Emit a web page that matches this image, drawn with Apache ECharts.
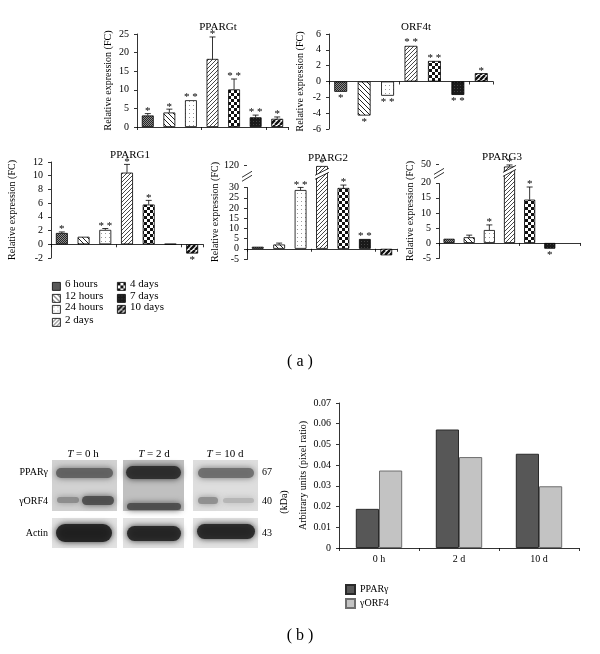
<!DOCTYPE html>
<html>
<head>
<meta charset="utf-8">
<script src="https://cdn.jsdelivr.net/npm/echarts@6.0.0/dist/echarts.min.js"></script>
<style>
html, body { margin: 0; padding: 0; background: #fff; }
#main { width: 600px; height: 654px; }
</style>
</head>
<body>
<div id="main"></div>
<script>
// data - panel (a)
var categories = ['6 hours', '12 hours', '24 hours', '2 days', '4 days', '7 days', '10 days'];

var ppargtVals = [3.1, 3.9, 7.2, 18.3, 10.1, 2.6, 2.2];
var ppargtErr = [3.6, 4.8, 7.3, 24.2, 12.9, 3.2, 2.7];
var ppargtStars = ['*', '*', '**', '*', '**', '**', '*'];

var orf4tVals = [-1.3, -4.3, -1.8, 4.5, 2.6, -1.7, 1.05];
var orf4tErr = [-1.3, -4.3, -1.8, 4.6, 2.7, -1.7, 1.05];
var orf4tStars = ['*', '*', '**', '**', '**', '**', '*'];

var pparg1Vals = [1.65, 1.1, 2.1, 10.45, 5.8, 0.05, -1.35];
var pparg1Err = [1.8, 1.15, 2.3, 11.65, 6.4, 0.05, -1.35];
var pparg1Stars = ['*', '', '**', '*', '*', '', '*'];

var pparg2Vals = [1.0, 2.1, 28.8, 116, 29.8, 4.8, -3.2];
var pparg2Err = [1.0, 2.8, 30.5, 119, 40, 4.8, -3.2];
var pparg2Stars = ['', '', '**', '*', '*', '**', ''];

var pparg3Vals = [1.4, 1.9, 4.3, 46, 14.4, -1.9, null];
var pparg3Err = [1.4, 2.6, 6.0, 48.5, 18.6, -1.9, null];
var pparg3Stars = ['', '', '*', '*', '*', '*', ''];

// broken axes: [start, end]
var pparg2Break = [30, 120];
var pparg3Break = [20, 50];

// data - panel (b)
var timePoints = ['0 h', '2 d', '10 d'];
var ppargProtein = [0.0189, 0.0572, 0.0455];
var orf4Protein = [0.0374, 0.0439, 0.0298];

var serif = '"Liberation Serif", "DejaVu Serif", serif';

// fill patterns for the 7 time points
function makePattern(size, draw) {
    var c = document.createElement('canvas');
    c.width = size;
    c.height = size;
    var ctx = c.getContext('2d');
    draw(ctx, size);
    return { image: c, repeat: 'repeat' };
}
function stripes(ctx, s, dir, width, bg, fg) {
    ctx.fillStyle = bg;
    ctx.fillRect(0, 0, s, s);
    ctx.strokeStyle = fg;
    ctx.lineWidth = width;
    ctx.beginPath();
    for (var k = -1; k <= 1; k++) {
        if (dir > 0) { ctx.moveTo(k * s, s); ctx.lineTo(k * s + s, 0); }
        else { ctx.moveTo(k * s, 0); ctx.lineTo(k * s + s, s); }
    }
    ctx.stroke();
}
var patterns = [
    makePattern(2, function (ctx) {
        ctx.fillStyle = '#8c8c8c'; ctx.fillRect(0, 0, 2, 2);
        ctx.fillStyle = '#262626'; ctx.fillRect(0, 0, 1, 1); ctx.fillRect(1, 1, 1, 1);
    }),
    makePattern(5, function (ctx, s) { stripes(ctx, s, -1, 1, '#fff', '#222'); }),
    makePattern(4, function (ctx) {
        ctx.fillStyle = '#fff'; ctx.fillRect(0, 0, 4, 4);
        ctx.fillStyle = '#9a9a9a'; ctx.fillRect(1, 1, 1, 1);
    }),
    makePattern(4, function (ctx, s) { stripes(ctx, s, 1, 0.9, '#fff', '#333'); }),
    makePattern(6, function (ctx) {
        ctx.fillStyle = '#fff'; ctx.fillRect(0, 0, 6, 6);
        ctx.fillStyle = '#111'; ctx.fillRect(0, 0, 3, 3); ctx.fillRect(3, 3, 3, 3);
    }),
    makePattern(3, function (ctx) {
        ctx.fillStyle = '#1a1a1a'; ctx.fillRect(0, 0, 3, 3);
        ctx.fillStyle = '#444'; ctx.fillRect(1, 1, 1, 1);
    }),
    makePattern(5, function (ctx, s) { stripes(ctx, s, 1, 2.4, '#fff', '#111'); })
];

// error bar + significance stars
function errorRender(stars) {
    return function (params, api) {
        var i = api.value(0), v = api.value(1), e = api.value(2);
        if (isNaN(v)) return;
        var base = api.coord([i, v]);
        var tip = api.coord([i, e]);
        var up = v >= 0;
        var kids = [];
        if (Math.abs(tip[1] - base[1]) > 1) {
            kids.push({ type: 'line', shape: { x1: base[0], y1: base[1], x2: tip[0], y2: tip[1] }, style: { stroke: '#000', lineWidth: 0.8 } });
            kids.push({ type: 'line', shape: { x1: tip[0] - 3, y1: tip[1], x2: tip[0] + 3, y2: tip[1] }, style: { stroke: '#000', lineWidth: 0.8 } });
        }
        var s = stars[params.dataIndex];
        if (s) {
            kids.push({
                type: 'text', x: tip[0], y: up ? tip[1] + 3 : tip[1] + 1,
                style: { text: s.split('').join(' '), fill: '#000', font: '11px ' + serif, align: 'center', verticalAlign: up ? 'bottom' : 'top' }
            });
        }
        return { type: 'group', children: kids };
    };
}

var grids = [], xAxes = [], yAxes = [], series = [], titles = [];
var axisText = { color: '#000', fontSize: 10, fontFamily: serif };

function addPanel(p) {
    var idx = grids.length;
    grids.push({ left: p.left, top: p.top, width: p.width, height: p.height, outerBoundsMode: 'none' });
    titles.push({ text: p.title, left: p.titleX, top: p.top - 17, textAlign: 'center',
        textStyle: { fontSize: 11, fontWeight: 'normal', color: '#000', fontFamily: serif } });
    xAxes.push({
        gridIndex: idx, type: 'category', data: categories,
        axisLine: { show: true, onZero: true, lineStyle: { color: '#000', width: 0.8 } },
        axisTick: { show: true, length: 3, lineStyle: { color: '#000', width: 0.8 } },
        axisLabel: { show: false }, splitLine: { show: false }
    });
    var y = {
        gridIndex: idx, type: 'value', min: p.min, max: p.max, interval: p.interval,
        name: 'Relative expression (FC)', nameLocation: 'middle', nameGap: p.nameGap,
        nameTextStyle: { color: '#000', fontSize: 10, fontFamily: serif },
        axisLine: { show: true, lineStyle: { color: '#000', width: 0.8 } },
        axisTick: { show: true, length: 3, lineStyle: { color: '#000', width: 0.8 } },
        axisLabel: axisText, splitLine: { show: false }
    };
    if (p.brk) {
        y.breaks = [{ start: p.brk[0], end: p.brk[1], gap: p.gap }];
        y.breakArea = { show: false, expandOnClick: false };
    }
    yAxes.push(y);
    series.push({
        type: 'bar', xAxisIndex: idx, yAxisIndex: idx, barWidth: '55%', silent: true,
        data: p.vals.map(function (v, i) {
            return { value: v, itemStyle: { color: patterns[i], borderColor: '#000', borderWidth: 0.8 } };
        })
    });
    series.push({
        type: 'custom', xAxisIndex: idx, yAxisIndex: idx, z: 5, silent: true,
        renderItem: errorRender(p.stars),
        encode: { x: 0, y: [1, 2] },
        data: p.vals.map(function (v, i) { return [i, v == null ? NaN : v, p.err[i] == null ? NaN : p.err[i]]; })
    });
}

addPanel({ title: 'PPARGt', titleX: 213, left: 137, top: 34, width: 151, height: 93, min: 0, max: 25, interval: 5,
    nameGap: 24, vals: ppargtVals, err: ppargtErr, stars: ppargtStars });
addPanel({ title: 'ORF4t', titleX: 411, left: 329, top: 34, width: 164, height: 95, min: -6, max: 6, interval: 2,
    nameGap: 24, vals: orf4tVals, err: orf4tErr, stars: orf4tStars });
addPanel({ title: 'PPARG1', titleX: 125, left: 51, top: 162, width: 152, height: 96, min: -2, max: 12, interval: 2,
    nameGap: 34, vals: pparg1Vals, err: pparg1Err, stars: pparg1Stars });
addPanel({ title: 'PPARG2', titleX: 323, left: 247, top: 165, width: 150, height: 94, min: -5, max: 120, interval: 5,
    nameGap: 24, vals: pparg2Vals, err: pparg2Err, stars: pparg2Stars, brk: pparg2Break, gap: '24%' });
addPanel({ title: 'PPARG3', titleX: 497, left: 439, top: 164, width: 141, height: 94, min: -5, max: 50, interval: 5,
    nameGap: 24, vals: pparg3Vals, err: pparg3Err, stars: pparg3Stars, brk: pparg3Break, gap: '20%' });

// panel (b) bar chart
var gb = grids.length;
grids.push({ left: 339, top: 403, width: 240, height: 145, outerBoundsMode: 'none' });
xAxes.push({
    gridIndex: gb, type: 'category', data: timePoints,
    axisLine: { show: true, lineStyle: { color: '#000', width: 0.8 } },
    axisTick: { show: true, length: 3, lineStyle: { color: '#000', width: 0.8 } },
    axisLabel: { color: '#000', fontSize: 10, fontFamily: serif, margin: 6 },
    splitLine: { show: false }
});
yAxes.push({
    gridIndex: gb, type: 'value', min: 0, max: 0.07, interval: 0.01,
    name: 'Arbitrary units (pixel ratio)', nameLocation: 'middle', nameGap: 31,
    nameTextStyle: { color: '#000', fontSize: 10, fontFamily: serif },
    axisLine: { show: true, lineStyle: { color: '#000', width: 0.8 } },
    axisTick: { show: true, length: 3, lineStyle: { color: '#000', width: 0.8 } },
    axisLabel: { color: '#000', fontSize: 10, fontFamily: serif,
        formatter: function (v) { return v === 0 ? '0' : v.toFixed(2); } },
    splitLine: { show: false }
});
series.push({
    name: 'PPAR\u03b3', type: 'bar', xAxisIndex: gb, yAxisIndex: gb,
    barGap: '0%', barCategoryGap: '42%', data: ppargProtein,
    itemStyle: { color: '#575757', borderColor: '#2a2a2a', borderWidth: 1 }
});
series.push({
    name: '\u03b3ORF4', type: 'bar', xAxisIndex: gb, yAxisIndex: gb,
    barGap: '0%', barCategoryGap: '42%', data: orf4Protein,
    itemStyle: { color: '#c3c3c3', borderColor: '#6e6e6e', borderWidth: 1 }
});

// legend for panel (a), built from the categories
var graphics = [];
var legendPos = [[52, 286], [52, 298], [52, 309], [52, 322], [117, 286], [117, 298], [117, 309]];
categories.forEach(function (c, i) {
    var p = legendPos[i];
    graphics.push({ type: 'rect', left: p[0], top: p[1] - 4, shape: { width: 8, height: 8 },
        style: { fill: patterns[i], stroke: '#000', lineWidth: 0.8 } });
    graphics.push({ type: 'text', left: p[0] + 13, top: p[1] - 7,
        style: { text: c, fill: '#000', font: '11px ' + serif } });
});

// western blot sketch
function box(x, y, w, h, fill) {
    graphics.push({ type: 'rect', left: x, top: y, shape: { width: w, height: h }, style: { fill: fill } });
}
function band(x, y, w, h, fill) {
    graphics.push({ type: 'rect', left: x, top: y, shape: { width: w, height: h, r: h / 2 },
        style: { fill: fill, shadowBlur: 6, shadowColor: fill, opacity: 0.9 } });
}
var lanes = [[52, 65, '#d2d2d2'], [123, 61, '#c0c0c0'], [193, 65, '#dedede']];
lanes.forEach(function (l) {
    box(l[0], 460, l[1], 51, l[2]);
    box(l[0], 518, l[1], 30, '#e2e2e2');
});
band(56, 468, 57, 10, '#5e5e5e');
band(57, 497, 22, 6, '#8a8a8a');
band(82, 496, 32, 9, '#4a4a4a');
band(126, 466, 55, 13, '#2a2a2a');
band(127, 503, 54, 7, '#4a4a4a');
band(198, 468, 56, 10, '#6a6a6a');
band(198, 497, 20, 7, '#8c8c8c');
band(223, 498, 31, 5, '#b4b4b4');
band(56, 524, 56, 18, '#1e1e1e');
band(127, 526, 54, 15, '#222');
band(197, 524, 58, 15, '#242424');

[['0 h', 83], ['2 d', 154], ['10 d', 225]].forEach(function (t) {
    graphics.push({ type: 'text', x: t[1], y: 454, style: {
        text: '{i|T} = ' + t[0], align: 'center', verticalAlign: 'middle', fill: '#000', font: '11px ' + serif,
        rich: { i: { fontStyle: 'italic', fontFamily: serif, fontSize: 11 } } } });
});
[['PPAR\u03b3', 472, '67'], ['\u03b3ORF4', 501, '40'], ['Actin', 533, '43']].forEach(function (r) {
    graphics.push({ type: 'text', x: 48, y: r[1], style: { text: r[0], fill: '#000', font: '10px ' + serif, align: 'right', verticalAlign: 'middle' } });
    graphics.push({ type: 'text', x: 262, y: r[1], style: { text: r[2], fill: '#000', font: '10px ' + serif, verticalAlign: 'middle' } });
});
graphics.push({ type: 'text', x: 284, y: 502, rotation: Math.PI / 2, style: { text: '(kDa)', fill: '#000', font: '10px ' + serif, align: 'center', verticalAlign: 'middle' } });

// panel captions
graphics.push({ type: 'text', x: 300, y: 362, style: { text: '( a )', fill: '#000', font: '16px ' + serif, align: 'center', verticalAlign: 'middle' } });
graphics.push({ type: 'text', x: 300, y: 636, style: { text: '( b )', fill: '#000', font: '16px ' + serif, align: 'center', verticalAlign: 'middle' } });

var chart = echarts.init(document.getElementById('main'));
var option = {
    backgroundColor: '#fff',
    animation: false,
    title: titles,
    legend: {
        data: ['PPAR\u03b3', '\u03b3ORF4'], orient: 'vertical', left: 340, top: 579,
        itemWidth: 9, itemHeight: 9, itemGap: 3, icon: 'rect',
        textStyle: { color: '#000', fontSize: 10, fontFamily: serif }
    },
    grid: grids,
    xAxis: xAxes,
    yAxis: yAxes,
    series: series,
    graphic: graphics
};
chart.setOption(option);

// "//" break marks on the axis and through the tall bar
function breakMarks(axisIdx, brk, barIdx) {
    var yTop = chart.convertToPixel({ yAxisIndex: axisIdx }, brk[1]);
    var yBot = chart.convertToPixel({ yAxisIndex: axisIdx }, brk[0]);
    var ym = (yTop + yBot) / 2;
    var ax = grids[axisIdx].left;
    var line = { stroke: '#000', lineWidth: 0.8 };
    graphics.push({ type: 'rect', shape: { x: ax - 2, y: ym - 3, width: 4, height: 6 }, style: { fill: '#fff' }, z: 10 });
    graphics.push({ type: 'line', shape: { x1: ax - 5, y1: ym + 1, x2: ax + 5, y2: ym - 5 }, style: line, z: 11 });
    graphics.push({ type: 'line', shape: { x1: ax - 5, y1: ym + 5, x2: ax + 5, y2: ym - 1 }, style: line, z: 11 });
    var cx = chart.convertToPixel({ xAxisIndex: axisIdx }, barIdx);
    var hw = grids[axisIdx].width / categories.length * 0.55 / 2 + 1;
    graphics.push({ type: 'polygon', shape: { points: [[cx - hw, ym + 3], [cx + hw, ym - 4], [cx + hw, ym - 8], [cx - hw, ym - 1]] },
        style: { fill: '#fff' }, z: 10 });
    graphics.push({ type: 'line', shape: { x1: cx - hw, y1: ym + 3, x2: cx + hw, y2: ym - 4 }, style: line, z: 11 });
    graphics.push({ type: 'line', shape: { x1: cx - hw, y1: ym - 1, x2: cx + hw, y2: ym - 8 }, style: line, z: 11 });
}
breakMarks(3, pparg2Break, 3);
breakMarks(4, pparg3Break, 3);
chart.setOption({ graphic: graphics });
</script>
</body>
</html>
